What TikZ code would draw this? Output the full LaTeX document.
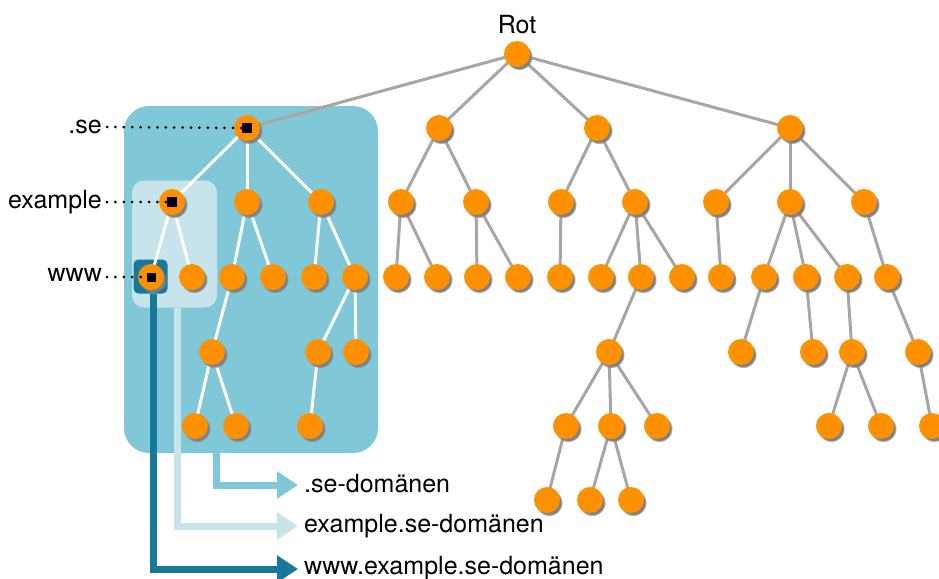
\documentclass[tikz,border=0pt]{standalone}
\usepackage{fontspec}
\setmainfont{TeX Gyre Heros}
\usetikzlibrary{arrows.meta,shadows}
\definecolor{orng}{HTML}{FF9000}
\definecolor{gline}{HTML}{A8A6A4}
\definecolor{boxblue}{HTML}{80C8D7}
\definecolor{boxlight}{HTML}{C8E4EB}
\definecolor{boxdark}{HTML}{17799A}
\pgfdeclarelayer{boxes}
\pgfdeclarelayer{edges}
\pgfsetlayers{boxes,edges,main}
\begin{document}
\begin{tikzpicture}[x=1pt,y=-1pt,
  dot/.style={circle,fill=orng,minimum size=26pt,inner sep=0pt,
    circular drop shadow={shadow xshift=2pt,shadow yshift=-2.5pt,shadow scale=1.05}},
  gedge/.style={draw=gline,line width=3pt},
  wedge/.style={draw=white,line width=3pt},
  sqmark/.style={fill=black,minimum size=9.5pt,inner sep=0pt},
  lab/.style={font=\fontsize{25}{29}\selectfont,inner sep=0pt},
  dotline/.style={line width=3pt,dash pattern=on 0pt off 8.4pt,line cap=round},
  bigbox/.style={fill=boxblue,rounded corners=25pt,minimum width=254pt,minimum height=347pt,inner sep=0pt},
  lightbox/.style={fill=boxlight,rounded corners=12pt,minimum width=85pt,minimum height=127pt,inner sep=0pt},
  darkbox/.style={fill=boxdark,rounded corners=5pt,minimum width=34pt,minimum height=34pt,inner sep=0pt},
  arrbase/.style={line width=7pt,-{Triangle[length=21pt,width=26pt]}},
]
\useasboundingbox (0,0) rectangle (939,578);

% boxes
\begin{pgfonlayer}{boxes}
\node[bigbox] (sebox) at (251,279.5) {};
\node[lightbox] (exbox) at (174.5,244) {};
\node[darkbox] (wwwbox) at (150.5,276.5) {};
\end{pgfonlayer}

% nodes
\node[dot] (root) at (517,54) {};
\node[dot] (se) at (247,128) {};
\node[dot] (a) at (439,128) {};
\node[dot] (b) at (597,128) {};
\node[dot] (c) at (790,128) {};

\node[dot] (ex) at (172,202) {};
\node[dot] (s2) at (247,202) {};
\node[dot] (s3) at (321,202) {};
\node[dot] (a1) at (401,202) {};
\node[dot] (a2) at (476,202) {};
\node[dot] (b1) at (561,202) {};
\node[dot] (b2) at (635,202) {};
\node[dot] (c1) at (716,202) {};
\node[dot] (c2) at (790,202) {};
\node[dot] (c3) at (864,202) {};

\node[dot] (www) at (151,277) {};
\node[dot] (e2) at (192,277) {};
\node[dot] (s2a) at (232,277) {};
\node[dot] (s2b) at (273,277) {};
\node[dot] (s3a) at (314,277) {};
\node[dot] (s3b) at (355,277) {};
\node[dot] (a1a) at (396,277) {};
\node[dot] (a1b) at (437,277) {};
\node[dot] (a2a) at (477,277) {};
\node[dot] (a2b) at (518,277) {};
\node[dot] (b1a) at (560,277) {};
\node[dot] (b2a) at (601,277) {};
\node[dot] (b2b) at (641,277) {};
\node[dot] (b2c) at (682,277) {};
\node[dot] (c1a) at (721,277) {};
\node[dot] (c2a) at (764,277) {};
\node[dot] (c2b) at (806,277) {};
\node[dot] (c2c) at (847,277) {};
\node[dot] (c3a) at (887,277) {};

\node[dot] (s2aa) at (212,352) {};
\node[dot] (s3ba) at (318,352) {};
\node[dot] (s3bb) at (356,352) {};
\node[dot] (b2ba) at (609,352) {};
\node[dot] (c2aa) at (741,352) {};
\node[dot] (c2ba) at (813,352) {};
\node[dot] (c2ca) at (852,352) {};
\node[dot] (c3aa) at (918,352) {};

\node[dot] (s2aaa) at (195,426) {};
\node[dot] (s2aab) at (236,426) {};
\node[dot] (s3baa) at (310,426) {};
\node[dot] (b2baa) at (566,426) {};
\node[dot] (b2bab) at (611,426) {};
\node[dot] (b2bac) at (657,426) {};
\node[dot] (c2caa) at (829,426) {};
\node[dot] (c2cab) at (881,426) {};
\node[dot] (c3aaa) at (932,426) {};

\node[dot] (b2baaa) at (547,500) {};
\node[dot] (b2baba) at (590,500) {};
\node[dot] (b2babb) at (631,500) {};

% edges
\begin{pgfonlayer}{edges}
\foreach \p/\q in {root/se,root/a,root/b,root/c,
  a/a1,a/a2,b/b1,b/b2,c/c1,c/c2,c/c3,
  a1/a1a,a1/a1b,a2/a2a,a2/a2b,b1/b1a,b2/b2a,b2/b2b,b2/b2c,
  c1/c1a,c2/c2a,c2/c2b,c2/c2c,c3/c3a,
  b2b/b2ba,c2a/c2aa,c2b/c2ba,c2c/c2ca,c3a/c3aa,
  b2ba/b2baa,b2ba/b2bab,b2ba/b2bac,c2ca/c2caa,c2ca/c2cab,c3aa/c3aaa,
  b2baa/b2baaa,b2bab/b2baba,b2bab/b2babb}
  \draw[gedge] (\p.center) -- (\q.center);
\foreach \p/\q in {se/ex,se/s2,se/s3,ex/www,ex/e2,s2/s2a,s2/s2b,s3/s3a,s3/s3b,
  s2a/s2aa,s3b/s3ba,s3b/s3bb,s2aa/s2aaa,s2aa/s2aab,s3ba/s3baa}
  \draw[wedge] (\p.center) -- (\q.center);
\end{pgfonlayer}

% marks
\node[sqmark] (mse) at (se) {};
\node[sqmark] (mex) at (ex) {};
\node[sqmark,minimum size=9pt] (mwww) at (www) {};

% labels
\node[lab,anchor=south] (rotlab) at (517,34) {Rot};
\node[lab,anchor=east] (selab) at (102,127) {.se};
\node[lab,anchor=east] (exlab) at (102,202) {example};
\node[lab,anchor=east] (wwwlab) at (102,275) {www};

\draw[dotline] ([xshift=5pt]selab.east) -- (mse.west);
\draw[dotline] ([xshift=5pt]exlab.east |- ex) -- (mex.west);
\draw[dotline] ([xshift=5pt]wwwlab.east |- www) -- (mwww.west);

% domain arrows
\coordinate (tipA) at (298,485);
\coordinate (tipB) at (298,526);
\coordinate (tipC) at (298,569);
\draw[arrbase,draw=boxblue] ([xshift=-35pt]sebox.south) |- (tipA);
\draw[arrbase,draw=boxlight] ([xshift=3pt]exbox.south) |- (tipB);
\draw[arrbase,draw=boxdark] ([xshift=2.5pt]wwwbox.south) |- (tipC);

\node[lab,anchor=base west] (ta) at (304,492) {.se-domänen};
\node[lab,anchor=base west] (tb) at (304,532) {example.se-domänen};
\node[lab,anchor=base west] (tc) at (304,574) {www.example.se-domänen};
\end{tikzpicture}
\end{document}
